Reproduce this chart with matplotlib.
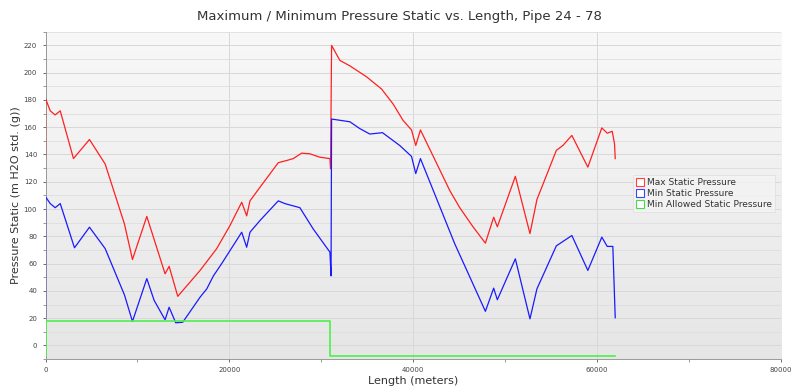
import numpy as np
import matplotlib.pyplot as plt
from matplotlib.lines import Line2D
from matplotlib.colors import LinearSegmentedColormap

# lengths (m) and pressures (m H2O)
max_x = [0, 0, 510, 1050, 1600, 3040, 4780, 6490, 8590, 9460, 11020, 13010, 13450,
         14390, 16820, 18630, 20080, 21350, 21890, 22250, 23340, 25330, 26240, 26960,
         27870, 28770, 29860, 30950, 31020, 31130, 32030, 33120, 34930, 36570, 37830,
         38910, 39830, 40290, 40800, 42170, 43990, 45080, 46520, 47870, 48770, 49170,
         51130, 52720, 53480, 55590, 56300, 57280, 59020, 60540, 61130, 61670, 61920, 62000]
max_p = [139, 181, 172, 169, 172, 137, 151, 133, 89, 63, 94.6, 52.5, 58,
         36, 55, 71, 88, 105, 95, 106, 116, 134, 135.6, 137,
         141, 140.5, 138, 137, 129.5, 220, 209, 205, 197, 188, 177,
         165, 158, 146.6, 158, 139, 113.6, 101, 87, 75, 94, 87,
         124, 82, 107, 143, 146.6, 154, 130.7, 159.5, 155.6, 157, 148, 137]

min_x = [0, 0, 510, 1050, 1600, 3150, 4780, 6490, 8590, 9460, 11020, 11820, 13010,
         13450, 14170, 14930, 16820, 17550, 18270, 19170, 20080, 21350, 21890, 22250,
         23340, 25330, 26050, 27680, 29120, 30950, 31070, 31130, 33120, 34200, 35290,
         36670, 38550, 39830, 40290, 40800, 44530, 47870, 48770, 49170, 51130, 52720,
         53480, 55590, 57280, 59020, 60540, 61130, 61740, 62000]
min_p = [21, 109, 104, 101, 104, 71.6, 86.7, 71, 37, 17.6, 49, 33, 18.8,
         28, 16.6, 17, 35.4, 41.5, 51, 60, 69.6, 83, 72, 83,
         91.6, 106, 104, 101, 85.5, 68.4, 51, 166, 164, 159, 155,
         156, 146.6, 138.6, 126, 137, 74.6, 25, 42, 33.5, 63.5, 19.5,
         41.5, 73, 80.6, 55, 79.4, 72.6, 72.6, 20.3]

allowed_x = [0, 0, 31000, 31000, 62000]
allowed_p = [-8, 18, 18, -8, -8]

fig = plt.figure(figsize=(7.99, 3.92), dpi=100)
ax = fig.add_axes([0.057, 0.084, 0.920, 0.835])

# light grey gradient background
cmap = LinearSegmentedColormap.from_list("bg", ["#e6e6e6", "#f8f8f8"])
grad = np.linspace(0, 1, 256).reshape(-1, 1)
ax.imshow(grad, extent=[0, 1, 0, 1], transform=ax.transAxes, aspect="auto",
          cmap=cmap, origin="lower", zorder=0)

ax.plot(max_x, max_p, color="#ff2020", lw=0.9, zorder=3)
ax.plot(min_x, min_p, color="#1a1aff", lw=0.9, zorder=3)
ax.plot(allowed_x, allowed_p, color="#4cf04c", lw=1.2, zorder=3)

ax.set_xlim(0, 80000)
ax.set_ylim(-10, 230)
ax.set_xticks([0, 20000, 40000, 60000, 80000])
ax.set_xticks(np.arange(0, 80001, 10000), minor=True)
ax.set_yticks(np.arange(0, 221, 20))
ax.set_yticks(np.arange(-10, 231, 10), minor=True)
ax.grid(True, which="major", color="#d8d8d8", lw=0.7, zorder=1)
ax.grid(True, which="minor", axis="y", color="#dedede", lw=0.6, zorder=1)
ax.tick_params(labelsize=5, colors="#555555", length=2.5, width=0.6)
ax.tick_params(which="minor", length=2, width=0.6, colors="#888888")
for lab in ax.get_xticklabels() + ax.get_yticklabels():
    lab.set_color("#444444")

for s in ["top", "right"]:
    ax.spines[s].set_visible(False)
for s in ["left", "bottom"]:
    ax.spines[s].set_color("#999999")
    ax.spines[s].set_linewidth(0.7)

ax.set_xlabel("Length (meters)", fontsize=8, color="#333333", labelpad=2)
ax.set_ylabel("Pressure Static (m H2O std. (g))", fontsize=8, color="#333333", labelpad=2)
fig.suptitle("Maximum / Minimum Pressure Static vs. Length, Pipe 24 - 78",
             fontsize=9.5, color="#333333", y=0.975)

handles = [
    Line2D([], [], ls="none", marker="s", markersize=6, markerfacecolor="white",
           markeredgecolor=c, markeredgewidth=0.8)
    for c in ["#ff4040", "#4040ff", "#40e040"]
]
leg = ax.legend(handles, ["Max Static Pressure", "Min Static Pressure",
                          "Min Allowed Static Pressure"],
                loc="upper left", bbox_to_anchor=(0.799, 0.562), fontsize=6.5,
                frameon=True, fancybox=False, handlelength=0.8, handletextpad=0.4,
                borderpad=0.35, labelspacing=0.2, borderaxespad=0)
leg.get_frame().set_facecolor("#f4f4f4")
leg.get_frame().set_edgecolor("#dddddd")
leg.get_frame().set_linewidth(0.6)
for t in leg.get_texts():
    t.set_color("#333333")

fig.savefig("out.png", dpi=100)
